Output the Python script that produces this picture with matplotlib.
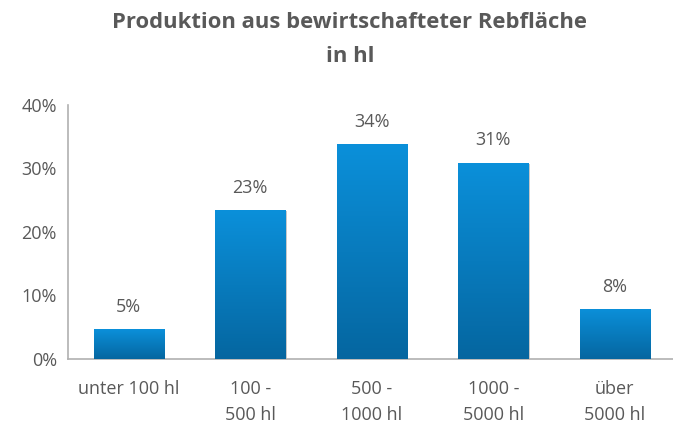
import matplotlib.pyplot as plt
import numpy as np
from matplotlib.colors import LinearSegmentedColormap

categories = ["unter 100 hl", "100 -\n500 hl", "500 -\n1000 hl", "1000 -\n5000 hl", "über\n5000 hl"]
shares = [4.7, 23.4, 33.8, 30.9, 7.9]
labels = ["5%", "23%", "34%", "31%", "8%"]

plt.rcParams["font.family"] = ["Open Sans", "DejaVu Sans"]
text_color = "#595959"

fig = plt.figure(figsize=(6.73, 4.24), dpi=100)
ax = fig.add_axes([68 / 673, 65 / 424, 607.5 / 673, 254 / 424])

x = np.arange(len(categories))
bars = ax.bar(x, shares, width=0.58, color="#0a86c8", zorder=2)

# vertical gradient, lighter on top
grad = np.linspace(0, 1, 256).reshape(-1, 1)
cmap = LinearSegmentedColormap.from_list("bar", ["#0566a0", "#0b90da"])
for b in bars:
    bx, by = b.get_x(), b.get_y()
    w, h = b.get_width(), b.get_height()
    # soft shadow
    ax.bar(bx + w / 2 + 0.012, h, width=w, bottom=-0.15, color="#c8c8c8", zorder=1)
    im = ax.imshow(grad, extent=[bx, bx + w, by, by + h], origin="lower",
                   cmap=cmap, aspect="auto", zorder=3)
    im.set_clip_path(b)

for xi, v, lab in zip(x, shares, labels):
    ax.text(xi, v + 2.1, lab, ha="center", va="bottom", fontsize=13, color=text_color)

ax.set_xlim(-0.5, len(categories) - 0.5)
ax.set_ylim(0, 40)
ax.set_yticks([0, 10, 20, 30, 40])
ax.set_yticklabels(["0%", "10%", "20%", "30%", "40%"])
ax.set_xticks(x)
ax.set_xticklabels(categories, va="top", linespacing=1.55)
ax.tick_params(length=0, colors=text_color, labelsize=13)
ax.tick_params(axis="x", pad=15)
ax.tick_params(axis="y", pad=8)
for s in ["top", "right"]:
    ax.spines[s].set_visible(False)
for s in ["left", "bottom"]:
    ax.spines[s].set_color("#b0b0b0")
    ax.spines[s].set_linewidth(1.2)

fig.text(350 / 673, 1 - 39.5 / 424, "Produktion aus bewirtschafteter Rebfläche\nin hl",
         ha="center", va="center", fontsize=15.8, fontweight="bold", color=text_color,
         linespacing=1.75)

fig.savefig("out.png", dpi=100)
